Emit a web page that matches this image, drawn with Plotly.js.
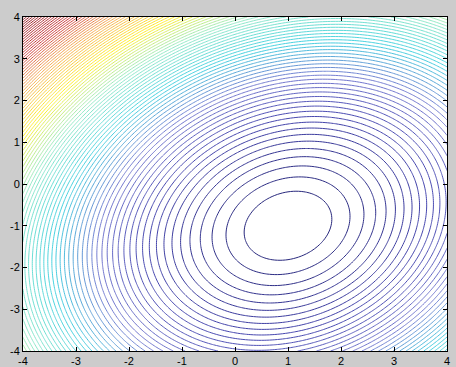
<!DOCTYPE html>
<html>
<head>
<meta charset="utf-8">
<script src="https://cdn.plot.ly/plotly-3.0.1.min.js"></script>
<style>html,body{margin:0;padding:0;background:#cccccc;}#chart{width:456px;height:367px;}</style>
</head>
<body>
<div id="chart"></div>
<script>
// Quadratic surface: minimum near (1, -1), tilted ellipses
const centerXY = [1.0, -1.0];          // location of the minimum
const quadCoeffs = [1.0, -0.38, 1.0];  // a*(dx^2) + b*(dx*dy) + c*(dy^2)
const levelStart = 0.66;
const levelStep = 0.66;
const axisRange = [-4, 4];
const tickVals = [-4, -3, -2, -1, 0, 1, 2, 3, 4];
const gridStep = 0.05;

const xs = [], ys = [];
for (let v = axisRange[0]; v <= axisRange[1] + 1e-9; v += gridStep) { xs.push(+v.toFixed(4)); ys.push(+v.toFixed(4)); }
const z = ys.map(y => xs.map(x => {
  const dx = x - centerXY[0], dy = y - centerXY[1];
  return quadCoeffs[0]*dx*dx + quadCoeffs[1]*dx*dy + quadCoeffs[2]*dy*dy;
}));
let zmax = -Infinity, zmin = Infinity;
z.forEach(r => r.forEach(v => { if (v > zmax) zmax = v; if (v < zmin) zmin = v; }));

// jet-like colormap, softened the way the thin antialiased lines look
const jetSoft = [
  [0, 'rgb(40,40,125)'], [0.1, 'rgb(70,70,175)'], [0.2, 'rgb(120,125,210)'],
  [0.31, 'rgb(70,210,225)'], [0.44, 'rgb(150,235,200)'], [0.56, 'rgb(255,240,40)'],
  [0.7, 'rgb(245,170,80)'], [0.82, 'rgb(205,60,60)'], [1, 'rgb(140,20,30)']
];

const trace = {
  type: 'contour', x: xs, y: ys, z: z,
  zmin: zmin, zmax: zmax,
  colorscale: jetSoft, showscale: false,
  contours: { coloring: 'lines', start: levelStart, end: zmax, size: levelStep },
  line: { width: 1, smoothing: 1 },
  hoverinfo: 'skip'
};

const axisCommon = {
  range: axisRange, tickvals: tickVals, ticktext: tickVals.map(String),
  ticks: 'inside', ticklen: 4, tickcolor: '#000', tickwidth: 1,
  showline: true, linecolor: '#000', linewidth: 1, mirror: 'ticks',
  showgrid: false, zeroline: false,
  tickfont: { family: 'Liberation Sans, Arial, sans-serif', size: 11, color: '#000' }
};

const layout = {
  width: 456, height: 367,
  margin: { l: 23, r: 9, t: 17, b: 16, pad: 0 },
  paper_bgcolor: '#cccccc', plot_bgcolor: '#ffffff',
  xaxis: Object.assign({}, axisCommon, { ticklabelstandoff: 0 }),
  yaxis: Object.assign({}, axisCommon, { ticklabelstandoff: 0 }),
  showlegend: false
};

Plotly.newPlot('chart', [trace], layout, { staticPlot: true, displayModeBar: false });
</script>
</body>
</html>
